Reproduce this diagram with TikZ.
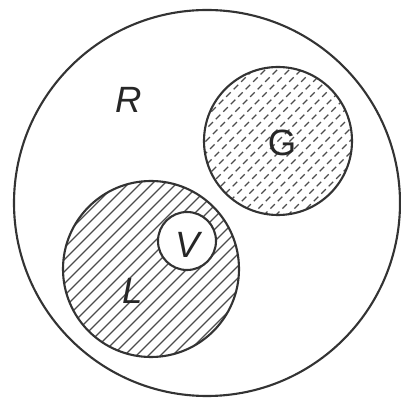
\documentclass[tikz,border=0pt]{standalone}
\usepackage{fontspec}
\setsansfont{Liberation Sans}
\usetikzlibrary{calc}

\tikzset{
    set/.style={draw=black!80, line width=1.5pt},
    hatch/.style={draw=black!70, line width=1pt},
    dashhatch/.style={hatch, dash pattern=on 4.5pt off 3pt},
    setlabel/.style={font=\sffamily\fontsize{26}{30}\selectfont, text=black!85, inner sep=0pt}
}

\begin{document}
\begin{tikzpicture}[x=0.025cm, y=0.025cm]
        \useasboundingbox (0,0) rectangle (401,401);

        % centri degli insiemi
        \coordinate (Rc) at (207,198);
        \coordinate (Gc) at (278,260);
        \coordinate (Lc) at (151,132);
        \coordinate (Vc) at (187,160);

        % insieme L: tratteggio pieno
        \begin{scope}
            \clip (Lc) circle (88);
            \foreach \k in {-20,...,20}
                \draw[hatch] ($(Lc)+(\k*12-100,-100)$) -- ++(200,200);
        \end{scope}

        % insieme G: tratteggio a trattini
        \begin{scope}
            \clip (Gc) circle (74);
            \foreach \k in {-16,...,16}
                \draw[dashhatch] ($(Gc)+(\k*12-90,-90)$) -- ++(180,180);
        \end{scope}

        % contorni
        \draw[set] (Rc) circle (193);
        \draw[set] (Gc) circle (74);
        \draw[set] (Lc) circle (88);
        \draw[set, fill=white] (Vc) circle (29);

        % etichette
        \node[setlabel] (R) at (129,301) {\itshape R};
        \node[setlabel] (G) at (282,258) {G};
        \node[setlabel] (V) at (188,156) {\itshape V};
        \node[setlabel] (L) at (133,110) {\itshape L};

    \end{tikzpicture}
\end{document}
